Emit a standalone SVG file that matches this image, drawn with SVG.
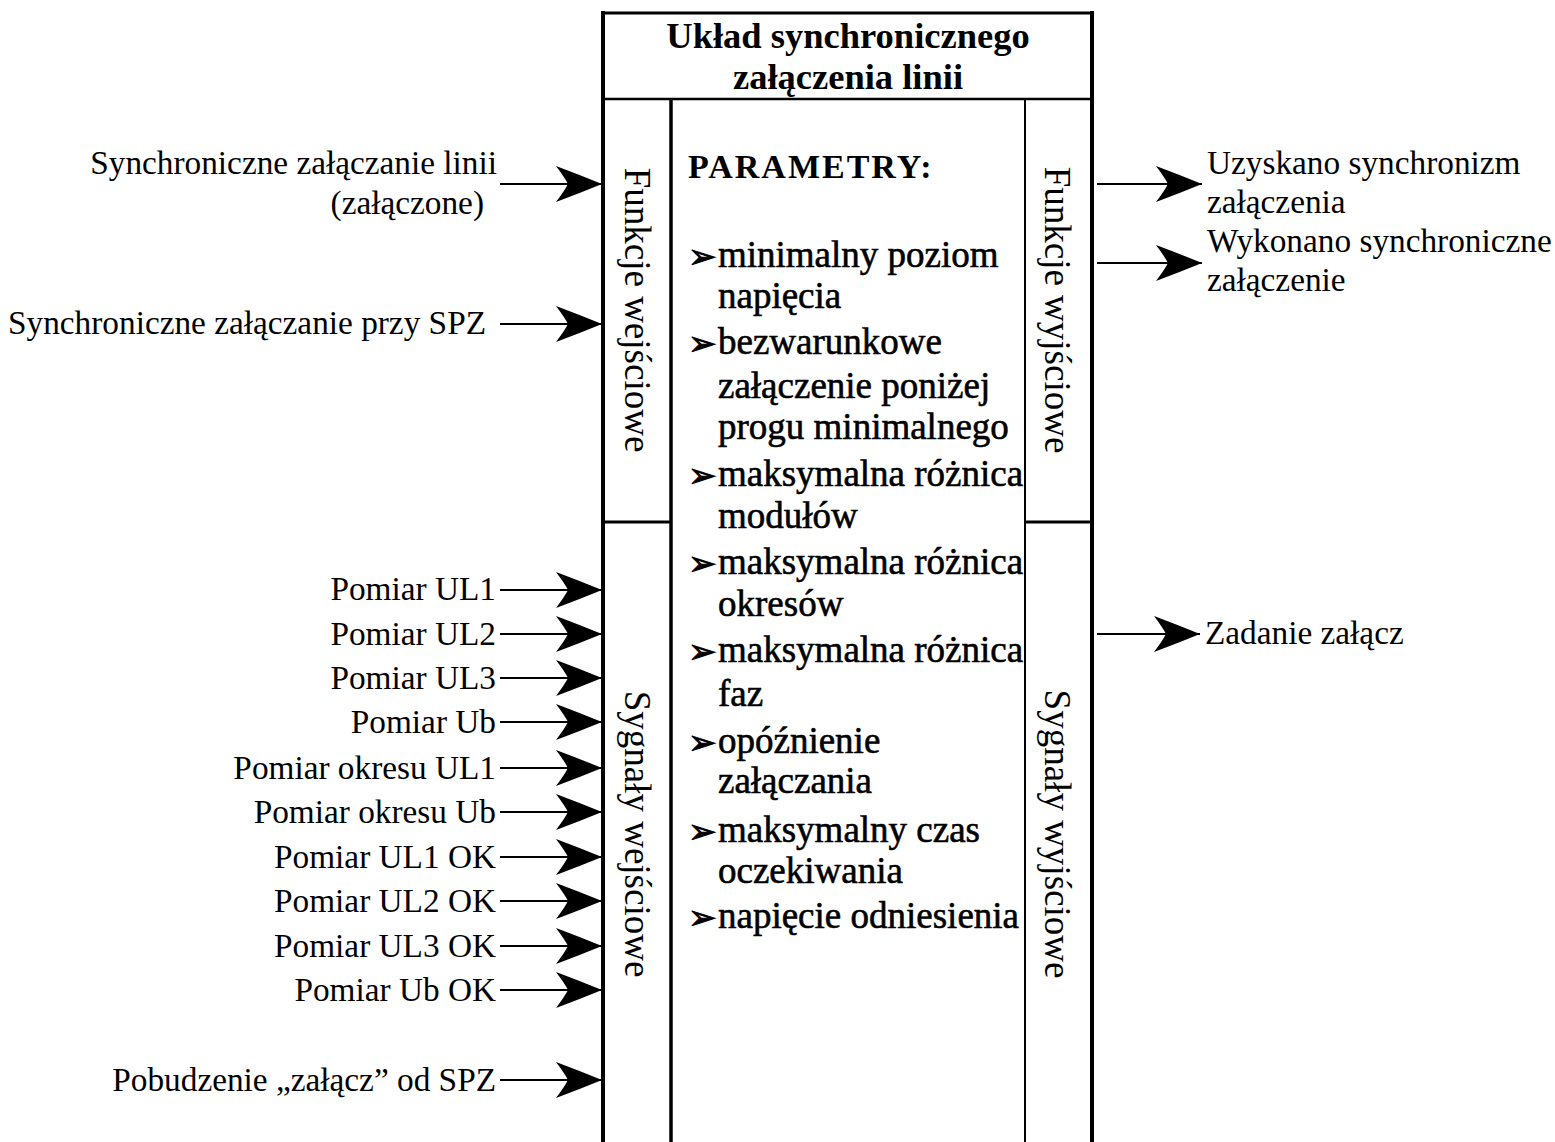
<svg xmlns="http://www.w3.org/2000/svg" width="1555" height="1142" viewBox="0 0 1555 1142">
<style>
  text { font-family: "Liberation Serif", Tinos, "Times New Roman", "DejaVu Serif", serif; fill: #000; }
  .lbl { font-size: 33.3px; }
  .end { text-anchor: end; }
  .title { font-size: 36.5px; font-weight: bold; text-anchor: middle; }
  .hdr { font-size: 34px; font-weight: bold; letter-spacing: 2px; }
  .par { font-size: 37px; stroke: #000; stroke-width: 0.6px; }
  .bul { font-family: "DejaVu Sans", sans-serif; font-size: 34px; stroke: #000; stroke-width: 1px; }
  .vert { font-size: 37px; text-anchor: middle; }
  .conn { stroke: #000; stroke-width: 2; fill: none; marker-end: url(#ah); }
  .frame { stroke: #000; fill: none; }
</style>
<defs>
  <marker id="ah" markerUnits="userSpaceOnUse" markerWidth="50" markerHeight="42" viewBox="-48 -21 50 42" refX="0" refY="0" orient="auto">
    <path d="M0,0 Q-22,-9 -46,-18 Q-37,-6 -34,0 Q-37,6 -46,18 Q-22,9 0,0 Z" fill="#000"/>
  </marker>
</defs>
<rect width="1555" height="1142" fill="#fff"/>

<g id="block">
  <line class="frame" x1="603" y1="11" x2="603" y2="1142" stroke-width="4"/>
  <line class="frame" x1="1092" y1="11" x2="1092" y2="1142" stroke-width="4"/>
  <line class="frame" x1="601" y1="13" x2="1094" y2="13" stroke-width="3"/>
  <line class="frame" x1="603" y1="99" x2="1092" y2="99" stroke-width="2.5"/>
  <line class="frame" x1="671" y1="99" x2="671" y2="1142" stroke-width="3.5"/>
  <line class="frame" x1="1025" y1="99" x2="1025" y2="1142" stroke-width="2"/>
  <line class="frame" x1="603" y1="522" x2="671" y2="522" stroke-width="3"/>
  <line class="frame" x1="1025" y1="522" x2="1092" y2="522" stroke-width="3"/>
</g>

<g id="title">
  <text class="title" x="848" y="48">Układ synchronicznego</text>
  <text class="title" x="848" y="89">załączenia linii</text>
</g>

<g id="funkcje-wejsciowe">
  <text class="vert" x="625" y="310" transform="rotate(90 625 310)">Funkcje wejściowe</text>
</g>
<g id="sygnaly-wejsciowe">
  <text class="vert" x="625" y="834" transform="rotate(90 625 834)">Sygnały wejściowe</text>
</g>
<g id="funkcje-wyjsciowe">
  <text class="vert" x="1045" y="310" transform="rotate(90 1045 310)">Funkcje wyjściowe</text>
</g>
<g id="sygnaly-wyjsciowe">
  <text class="vert" x="1045" y="834" transform="rotate(90 1045 834)">Sygnały wyjściowe</text>
</g>

<g id="parametry">
  <text class="hdr" x="688" y="178">PARAMETRY:</text>
  <text class="bul" x="688" y="268">➢</text><text class="par" x="718" y="267">minimalny poziom</text>
  <text class="par" x="718" y="308">napięcia</text>
  <text class="bul" x="688" y="355">➢</text><text class="par" x="718" y="354">bezwarunkowe</text>
  <text class="par" x="718" y="398">załączenie poniżej</text>
  <text class="par" x="718" y="439">progu minimalnego</text>
  <text class="bul" x="688" y="487">➢</text><text class="par" x="718" y="486">maksymalna różnica</text>
  <text class="par" x="718" y="528">modułów</text>
  <text class="bul" x="688" y="575">➢</text><text class="par" x="718" y="574">maksymalna różnica</text>
  <text class="par" x="718" y="616">okresów</text>
  <text class="bul" x="688" y="663">➢</text><text class="par" x="718" y="662">maksymalna różnica</text>
  <text class="par" x="718" y="706">faz</text>
  <text class="bul" x="688" y="754">➢</text><text class="par" x="718" y="753">opóźnienie</text>
  <text class="par" x="718" y="793">załączania</text>
  <text class="bul" x="688" y="843">➢</text><text class="par" x="718" y="842">maksymalny czas</text>
  <text class="par" x="718" y="883">oczekiwania</text>
  <text class="bul" x="688" y="929">➢</text><text class="par" x="718" y="928">napięcie odniesienia</text>
</g>

<g id="inputs">
  <text class="lbl end" x="497" y="174">Synchroniczne załączanie linii</text>
  <text class="lbl end" x="484" y="214">(załączone)</text>
  <text class="lbl end" x="486" y="334">Synchroniczne załączanie przy SPZ</text>
  <text class="lbl end" x="496" y="600">Pomiar UL1</text>
  <text class="lbl end" x="496" y="645">Pomiar UL2</text>
  <text class="lbl end" x="496" y="689">Pomiar UL3</text>
  <text class="lbl end" x="496" y="733">Pomiar Ub</text>
  <text class="lbl end" x="496" y="779">Pomiar okresu UL1</text>
  <text class="lbl end" x="496" y="823">Pomiar okresu Ub</text>
  <text class="lbl end" x="496" y="868">Pomiar UL1 OK</text>
  <text class="lbl end" x="496" y="912">Pomiar UL2 OK</text>
  <text class="lbl end" x="496" y="957">Pomiar UL3 OK</text>
  <text class="lbl end" x="496" y="1001">Pomiar Ub OK</text>
  <text class="lbl end" x="496" y="1091">Pobudzenie „załącz” od SPZ</text>
</g>

<g id="outputs">
  <text class="lbl" x="1207" y="174">Uzyskano synchronizm</text>
  <text class="lbl" x="1207" y="213">załączenia</text>
  <text class="lbl" x="1207" y="252">Wykonano synchroniczne</text>
  <text class="lbl" x="1207" y="291">załączenie</text>
  <text class="lbl" x="1205" y="644">Zadanie załącz</text>
</g>

<g id="connectors">
  <line class="conn" x1="500" y1="184" x2="602" y2="184"/>
  <line class="conn" x1="500" y1="324" x2="602" y2="324"/>
  <line class="conn" x1="500" y1="590" x2="602" y2="590"/>
  <line class="conn" x1="500" y1="634" x2="602" y2="634"/>
  <line class="conn" x1="500" y1="678" x2="602" y2="678"/>
  <line class="conn" x1="500" y1="722" x2="602" y2="722"/>
  <line class="conn" x1="500" y1="768" x2="602" y2="768"/>
  <line class="conn" x1="500" y1="812" x2="602" y2="812"/>
  <line class="conn" x1="500" y1="857" x2="602" y2="857"/>
  <line class="conn" x1="500" y1="901" x2="602" y2="901"/>
  <line class="conn" x1="500" y1="946" x2="602" y2="946"/>
  <line class="conn" x1="500" y1="990" x2="602" y2="990"/>
  <line class="conn" x1="500" y1="1080" x2="602" y2="1080"/>
  <line class="conn" x1="1097" y1="184" x2="1202" y2="184"/>
  <line class="conn" x1="1097" y1="263" x2="1202" y2="263"/>
  <line class="conn" x1="1097" y1="634" x2="1200" y2="634"/>
</g>
</svg>
